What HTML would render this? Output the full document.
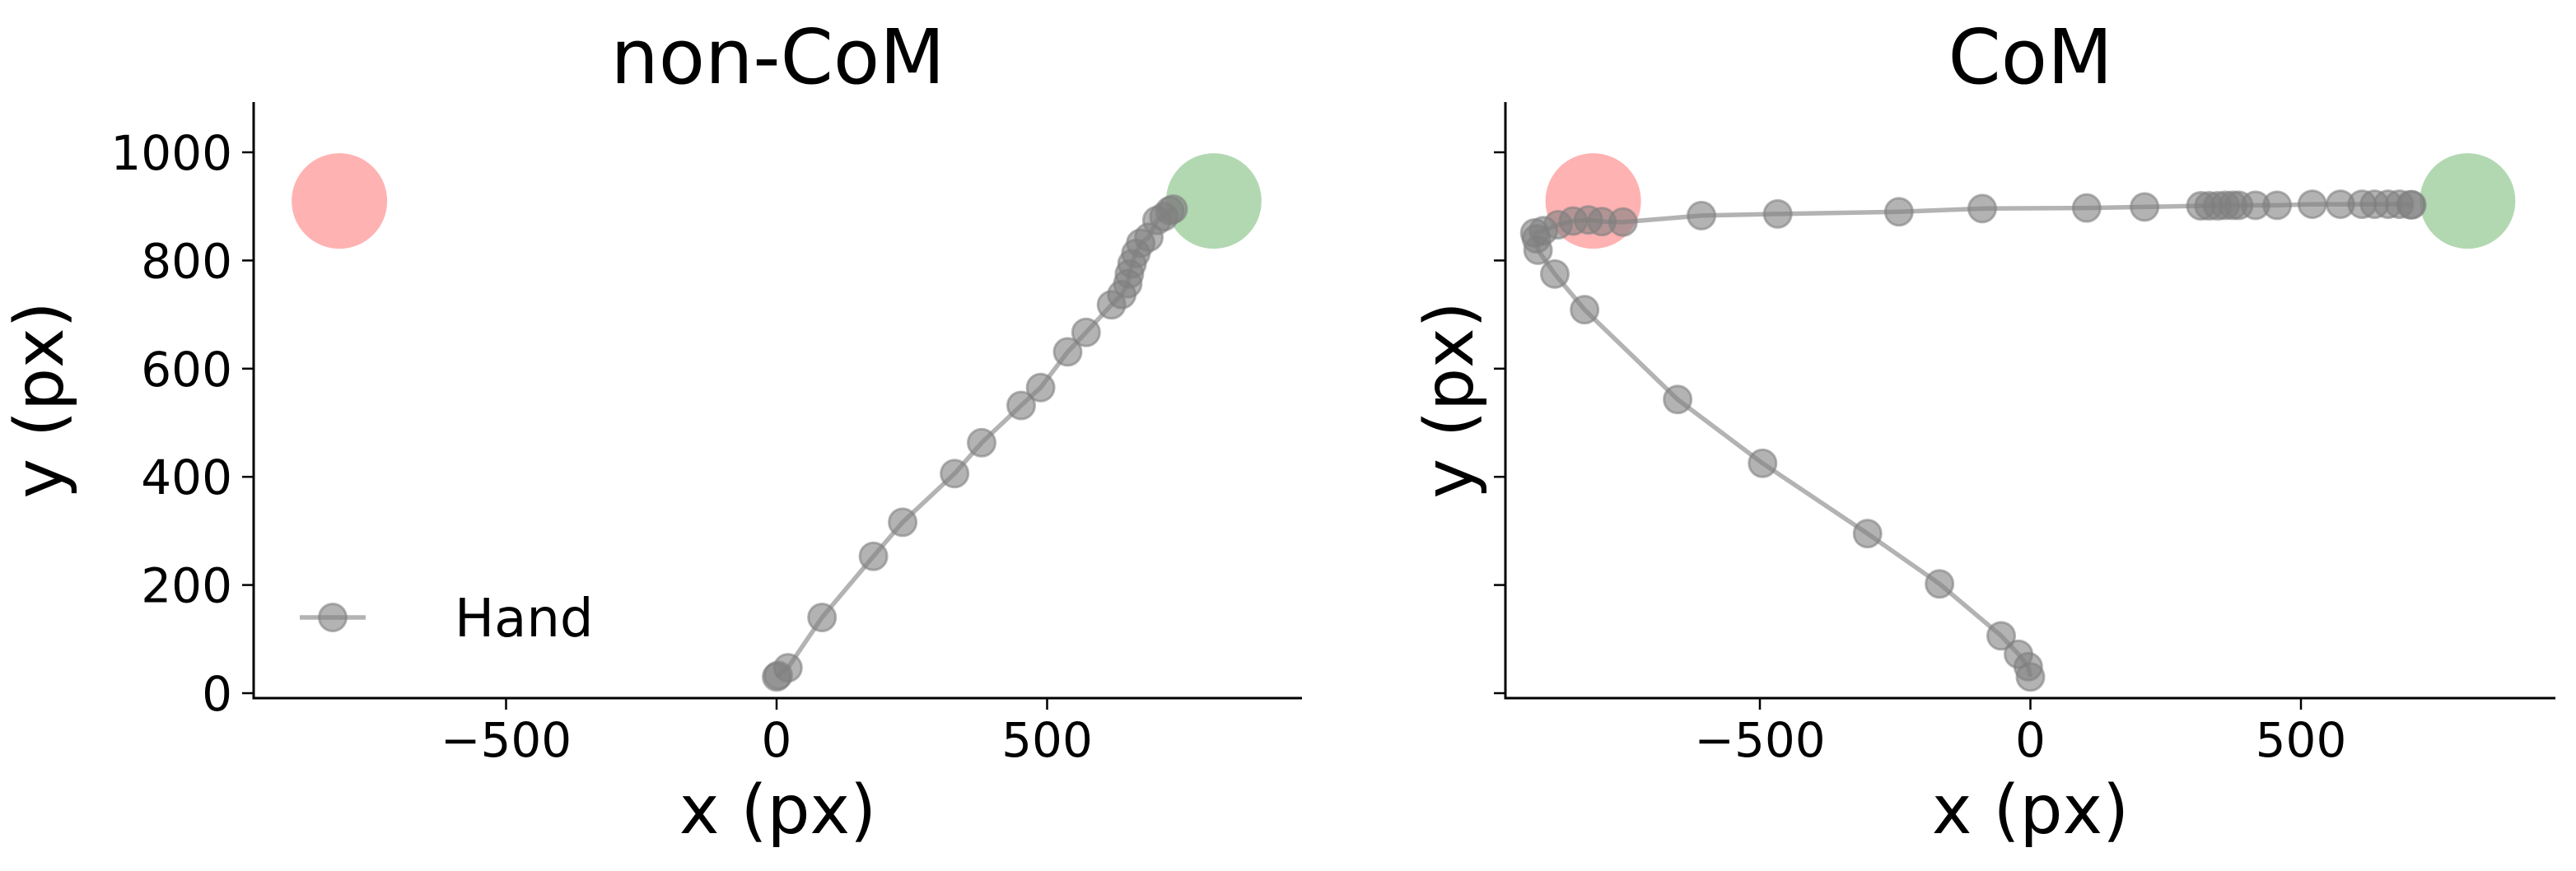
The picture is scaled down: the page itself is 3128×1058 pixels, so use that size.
<!DOCTYPE html>
<html><head><meta charset="utf-8"><style>
html,body{margin:0;padding:0;background:#fff;}
svg{display:block;font-family:"DejaVu Sans","Liberation Sans",sans-serif;}
</style></head><body>
<svg id="chart" width="3128" height="1058" viewBox="0 0 3128 1058" xmlns="http://www.w3.org/2000/svg"></svg>
<script>
// ---- data ----
const xTicks = [-500, 0, 500];
const xTickLabels = ["\u2212500", "0", "500"];
const yTicks = [0, 200, 400, 600, 800, 1000];
const yTickLabels = ["0", "200", "400", "600", "800", "1000"];
const panelTitles = ["non-CoM", "CoM"];
const targetRedX = -808, targetGreenX = 808, targetY = 910;
const handNonComX = [0, 3, 21, 84, 179, 233, 329, 379, 452, 488, 538, 572, 619, 638, 649, 652, 657, 664, 673, 688, 703, 716, 727, 733];
const handNonComY = [30, 33, 47, 140, 253, 316, 406, 463, 532, 565, 631, 667, 718, 737, 757, 775, 794, 813, 832, 843, 874, 881, 892, 895];
const handComX = [0, -4, -22, -54, -168, -301, -495, -652, -824, -879, -910, -913, -916, -900, -873, -845, -817, -792, -753, -608, -467, -243, -89, 104, 211, 315, 330, 346, 360, 374, 385, 416, 456, 521, 573, 613, 636, 661, 682, 703, 705];
const handComY = [30, 49, 72, 106, 202, 295, 425, 543, 709, 775, 819, 840, 851, 855, 866, 873, 875, 872, 871, 883, 886, 890, 896, 897, 899, 901, 901, 901, 902, 902, 902, 902, 902, 904, 904, 904, 904, 904, 904, 903, 903];

const NS = "http://www.w3.org/2000/svg";
const svg = document.getElementById("chart");
function mk(tag, attrs, parent) {
  const e = document.createElementNS(NS, tag);
  for (const k in attrs) e.setAttribute(k, attrs[k]);
  (parent || svg).appendChild(e);
  return e;
}
const S = 0.657;
const Y0 = 842;
const yScale = v => Y0 - v * S;
const MR = 16.5;

const panels = [
  {x0: 943, left: 308, right: 1581, xs: handNonComX, ys: handNonComY, legend: true, yLabels: true, ylx: 76},
  {x0: 2465.5, left: 1828, right: 3103, xs: handComX, ys: handComY, legend: false, yLabels: false, ylx: 1788}
];

panels.forEach((p, pi) => {
  const xScale = v => p.x0 + v * S;
  const g = mk("g", {});
  
  

  const red = mk("circle", {cx: xScale(targetRedX), cy: yScale(targetY), r: 58, fill: "#ffb2b2"}, g);
  
  
  const green = mk("circle", {cx: xScale(targetGreenX), cy: yScale(targetY), r: 58, fill: "#b2d8b2"}, g);
  
  

  const pts = p.xs.map((x, i) => xScale(x) + "," + yScale(p.ys[i])).join(" ");
  const line = mk("polyline", {points: pts, fill: "none", stroke: "#808080", "stroke-opacity": 0.6, "stroke-width": 5.5, "stroke-linejoin": "round"}, g);
  
  
  p.xs.forEach((x, i) => {
    const c = mk("circle", {cx: xScale(x), cy: yScale(p.ys[i]), r: MR, fill: "#808080", "fill-opacity": 0.6, stroke: "#808080", "stroke-opacity": 0.6, "stroke-width": 3}, g);
    
    
  });

  const top = 124, bottom = 848;
  const ya = mk("line", {x1: p.left, y1: top, x2: p.left, y2: bottom + 1.5, stroke: "#000", "stroke-width": 3}, g);
  
  
  const xa = mk("line", {x1: p.left - 1.5, y1: bottom, x2: p.right, y2: bottom, stroke: "#000", "stroke-width": 3}, g);
  
  

  xTicks.forEach((t, i) => {
    const x = xScale(t);
    const tk = mk("line", {x1: x, y1: bottom, x2: x, y2: bottom + 14, stroke: "#000", "stroke-width": 2.5}, g);
    
    
    const tl = mk("text", {x: x, y: 919, "font-size": 58, "text-anchor": "middle"}, g);
    tl.textContent = xTickLabels[i];
    
    
  });
  yTicks.forEach((t, i) => {
    const y = yScale(t);
    const tk = mk("line", {x1: p.left - 14, y1: y, x2: p.left, y2: y, stroke: "#000", "stroke-width": 2.5}, g);
    
    
    if (p.yLabels) {
      const tl = mk("text", {x: p.left - 26, y: y + 21, "font-size": 58, "text-anchor": "end"}, g);
      tl.textContent = yTickLabels[i];
      
      
    }
  });

  const cx = (p.left + p.right) / 2;
  const title = mk("text", {x: cx, y: 101, "font-size": 92, "text-anchor": "middle"}, g);
  title.textContent = panelTitles[pi];
  
  

  const xl = mk("text", {x: cx, y: 1012, "font-size": 82, "text-anchor": "middle"}, g);
  xl.textContent = "x (px)";
  
  

  const ylx = p.ylx;
  const yl = mk("text", {x: ylx, y: 486, "font-size": 82, "text-anchor": "middle", transform: `rotate(-90 ${ylx} 486)`}, g);
  yl.textContent = "y (px)";
  
  

  if (p.legend) {
    const lg = mk("g", {}, g);
    
    
    mk("line", {x1: 364, y1: 750, x2: 444, y2: 750, stroke: "#808080", "stroke-opacity": 0.6, "stroke-width": 5.5}, lg);
    mk("circle", {cx: 404, cy: 750, r: MR, fill: "#808080", "fill-opacity": 0.6, stroke: "#808080", "stroke-opacity": 0.6, "stroke-width": 3}, lg);
    const lt = mk("text", {x: 552, y: 773, "font-size": 64}, lg);
    lt.textContent = "Hand";
    
    
  }
});
</script>
</body></html>
